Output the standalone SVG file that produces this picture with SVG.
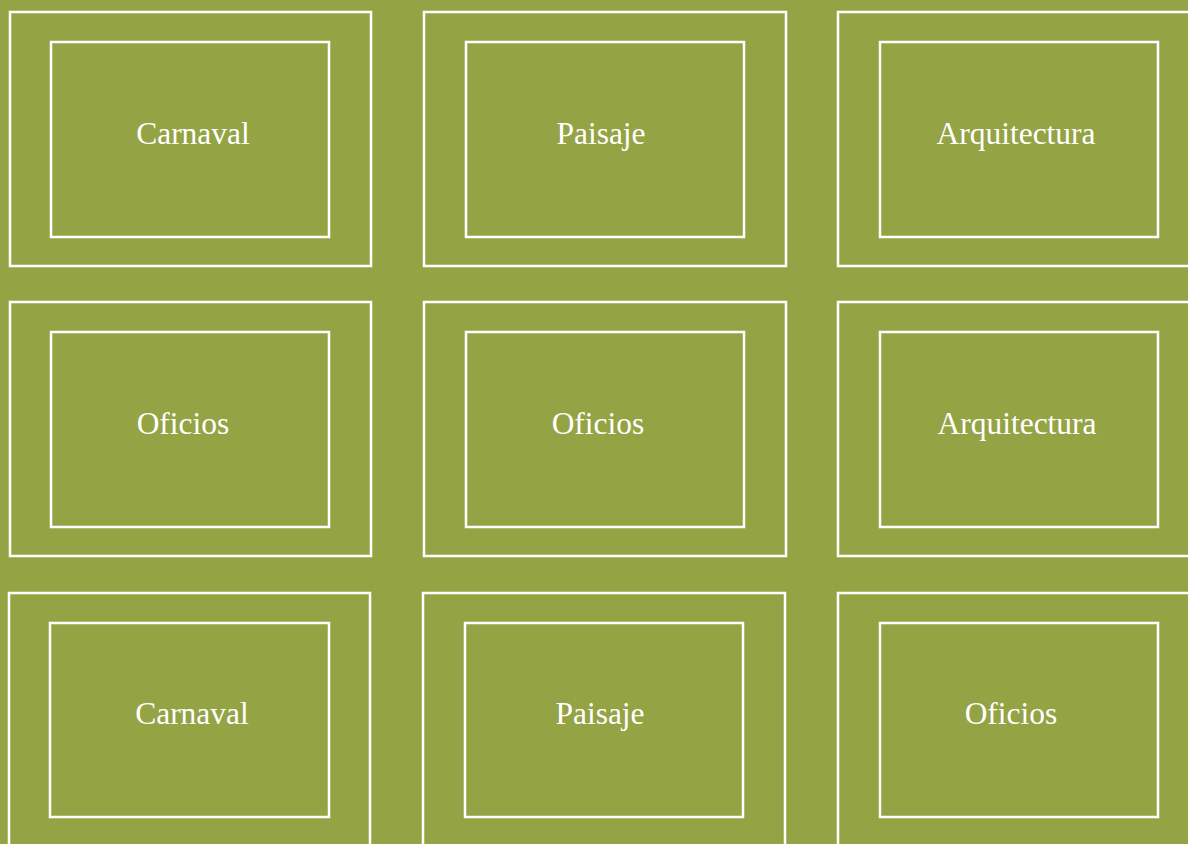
<svg xmlns="http://www.w3.org/2000/svg" width="1188" height="844" viewBox="0 0 1188 844">
<style>
.o{fill:none;stroke:#ffffff;stroke-width:2.5}
.i{fill:none;stroke:#ffffff;stroke-width:2.5}
.t{font-family:"Liberation Serif","Times New Roman",serif;font-size:31.5px;fill:#ffffff;text-anchor:middle}
</style>
<rect width="1188" height="844" fill="#94a344"/>
<g id="n1"><rect class="o" x="10" y="12" width="361" height="254"/><rect class="i" x="51" y="42" width="278" height="195"/><text class="t" x="193" y="144">Carnaval</text></g>
<g id="n2"><rect class="o" x="424" y="12" width="362" height="254"/><rect class="i" x="466" y="42" width="278" height="195"/><text class="t" x="601" y="144">Paisaje</text></g>
<g id="n3"><rect class="o" x="838" y="12" width="362" height="254"/><rect class="i" x="880" y="42" width="278" height="195"/><text class="t" x="1016" y="144">Arquitectura</text></g>
<g id="n4"><rect class="o" x="10" y="302" width="361" height="254"/><rect class="i" x="51" y="332" width="278" height="195"/><text class="t" x="183" y="434">Oficios</text></g>
<g id="n5"><rect class="o" x="424" y="302" width="362" height="254"/><rect class="i" x="466" y="332" width="278" height="195"/><text class="t" x="598" y="434">Oficios</text></g>
<g id="n6"><rect class="o" x="838" y="302" width="362" height="254"/><rect class="i" x="880" y="332" width="278" height="195"/><text class="t" x="1017" y="434">Arquitectura</text></g>
<g id="n7"><rect class="o" x="9" y="593" width="361" height="260"/><rect class="i" x="50" y="623" width="279" height="194"/><text class="t" x="192" y="724">Carnaval</text></g>
<g id="n8"><rect class="o" x="423" y="593" width="362" height="260"/><rect class="i" x="465" y="623" width="278" height="194"/><text class="t" x="600" y="724">Paisaje</text></g>
<g id="n9"><rect class="o" x="838" y="593" width="362" height="260"/><rect class="i" x="880" y="623" width="278" height="194"/><text class="t" x="1011" y="724">Oficios</text></g>
<g id="connectors"/>
</svg>
